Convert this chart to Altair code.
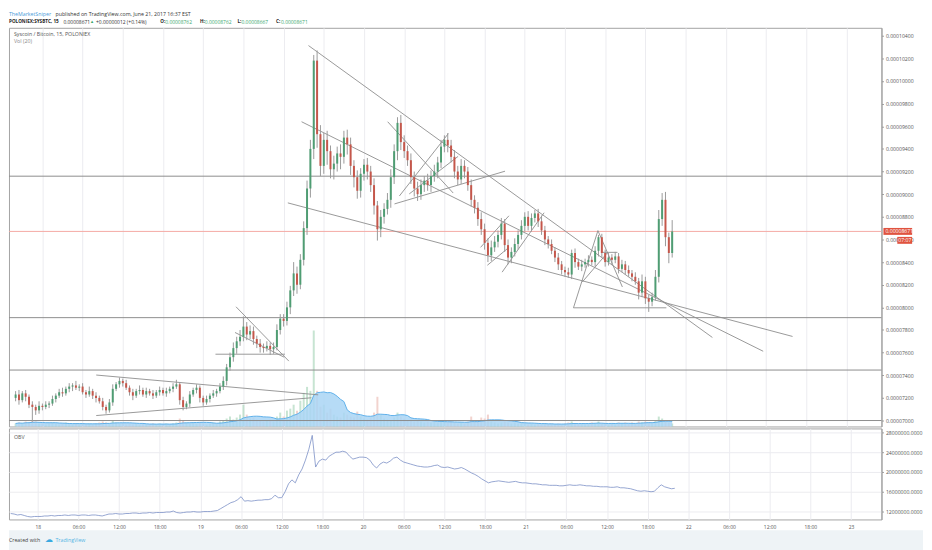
"""SYS/BTC on Poloniex: candles, volume and OBV in the TradingView look."""

import altair as alt
import pandas as pd

FONT = "Open Sans"
W, H_MAIN, H_OBV = 882, 403, 92
UP, DOWN, WICK = "#4f9d73", "#c5574b", "#9a9a9a"
GRID, LINE = "#ececf0", "#8d8d8d"

# 30 minute candles from 17 Jun 20:00, prices in satoshi (1e-8 BTC)
first_open = 7200
closes = [
    7230, 7180, 7240, 7210, 7140, 7120, 7090, 7130,
    7120, 7140, 7150, 7190, 7220, 7250, 7240, 7280, 7300, 7310, 7290, 7300,
    7250, 7230, 7260, 7220, 7200, 7170, 7120, 7090, 7160, 7280, 7320, 7350,
    7330, 7290, 7250, 7220, 7260, 7270, 7230, 7260, 7240, 7220, 7250, 7270,
    7240, 7260, 7280, 7300, 7320, 7180, 7120, 7150, 7230, 7270, 7290, 7200,
    7160, 7190, 7220, 7240, 7260, 7300, 7350, 7470, 7560, 7640, 7700, 7740,
    7830, 7760, 7790, 7720, 7680, 7650, 7640, 7660, 7630, 7650, 7800, 7900,
    7880, 8000, 8150, 8300, 8200, 8420, 8700, 9050, 9400, 10180, 9530, 9250,
    9480, 9380, 9220, 9270, 9360, 9330, 9500, 9440, 9250, 9150, 9030, 9180,
    9260, 9200, 9080, 8900, 8690, 8800, 8870, 8950, 9150, 9380, 9630, 9460,
    9380, 9300, 9150, 9050, 9000, 9080, 9120, 9080, 9160, 9200, 9280, 9420,
    9480, 9430, 9330, 9200, 9130, 9250, 9200, 9080, 8950, 8880, 8780, 8690,
    8570, 8460, 8530, 8580, 8640, 8740, 8550, 8440, 8490, 8560, 8640, 8720,
    8800, 8720, 8790, 8830, 8760, 8680, 8600, 8560, 8500, 8440, 8380, 8330,
    8310, 8290, 8480, 8400, 8360, 8380, 8400, 8420, 8400, 8500, 8620, 8480,
    8400, 8440, 8420, 8450, 8340, 8380, 8330, 8300, 8270, 8230, 8130, 8230,
    8080, 8050, 8090, 8270, 8780, 8950, 8620, 8480, 8671,
]
wick_up = [
    30, 40, 20, 30, 20, 30, 20, 40,
    20, 30, 20, 30, 20, 30, 40, 20, 30, 20, 40, 20,
    30, 20, 40, 20, 30, 20, 30, 20, 30, 40, 20, 30,
    20, 30, 20, 30, 20, 40, 20, 30, 20, 30, 20, 30,
    20, 30, 20, 30, 40, 20, 30, 20, 30, 20, 30, 20,
    20, 30, 20, 30, 20, 30, 40, 30, 40, 50, 40, 60,
    90, 40, 50, 40, 30, 40, 30, 40, 30, 40, 50, 40,
    40, 50, 40, 100, 60, 50, 60, 70, 80, 50, 90, 80,
    60, 80, 50, 70, 60, 80, 60, 70, 60, 50, 60, 50,
    50, 60, 50, 60, 40, 60, 50, 60, 70, 60, 50, 70,
    60, 50, 60, 50, 60, 50, 40, 60, 50, 60, 50, 60,
    40, 60, 50, 60, 50, 60, 50, 40, 50, 40, 50, 60,
    50, 40, 60, 50, 40, 50, 40, 50, 40, 50, 40, 50,
    40, 50, 40, 30, 40, 50, 40, 30, 40, 30, 40, 30,
    30, 40, 30, 40, 30, 40, 30, 40, 30, 40, 20, 30,
    30, 40, 30, 40, 30, 40, 30, 40, 30, 40, 30, 60,
    40, 30, 40, 60, 80, 60, 70, 40, 100,
]
wick_dn = [
    30, 40, 20, 40, 30, 130, 40, 30,
    30, 20, 30, 20, 30, 20, 30, 20, 30, 40, 20, 30,
    20, 30, 20, 30, 40, 20, 30, 30, 20, 30, 20, 30,
    30, 20, 30, 40, 20, 30, 20, 30, 20, 30, 20, 30,
    20, 30, 20, 30, 20, 40, 30, 20, 30, 20, 30, 40,
    30, 20, 30, 20, 30, 20, 30, 40, 30, 40, 50, 40,
    40, 50, 40, 50, 40, 50, 40, 30, 50, 40, 30, 40,
    50, 40, 60, 50, 80, 40, 50, 60, 80, 90, 120, 90,
    70, 120, 80, 90, 70, 110, 60, 90, 80, 90, 70, 60,
    60, 70, 60, 80, 100, 70, 60, 50, 70, 60, 80, 70,
    60, 50, 60, 70, 60, 50, 60, 50, 60, 50, 60, 50,
    50, 60, 50, 60, 50, 40, 60, 50, 60, 50, 60, 50,
    60, 60, 50, 40, 50, 40, 60, 60, 50, 40, 50, 40,
    50, 40, 50, 40, 50, 40, 50, 40, 30, 40, 50, 40,
    40, 30, 40, 50, 30, 40, 30, 40, 30, 40, 50, 40,
    40, 30, 40, 30, 40, 30, 40, 30, 40, 30, 60, 40,
    50, 90, 40, 30, 50, 60, 80, 90, 40,
]
volumes = [
    3, 4, 3, 5, 4, 6, 5, 3,
    3, 2, 3, 4, 3, 2, 3, 4, 3, 2, 3, 2,
    3, 2, 3, 2, 3, 4, 5, 4, 3, 6, 4, 3,
    3, 2, 3, 2, 3, 2, 3, 2, 2, 3, 2, 3,
    2, 3, 2, 3, 4, 8, 6, 4, 3, 4, 3, 4,
    3, 2, 3, 4, 3, 5, 6, 8, 10, 7, 9, 12,
    22, 12, 8, 9, 7, 6, 5, 6, 7, 5, 10, 14,
    10, 16, 18, 22, 16, 26, 34, 40, 36, 97, 36, 20,
    22, 14, 18, 12, 10, 9, 14, 12, 10, 9, 15, 10,
    8, 7, 9, 14, 30, 12, 8, 7, 6, 9, 14, 10,
    8, 6, 7, 5, 6, 5, 4, 5, 4, 5, 4, 6,
    5, 4, 5, 4, 3, 4, 3, 5, 10, 6, 5, 9,
    8, 12, 5, 4, 3, 4, 5, 4, 3, 4, 3, 4,
    3, 2, 3, 2, 3, 2, 3, 2, 3, 2, 3, 2,
    3, 4, 5, 3, 2, 3, 2, 3, 4, 3, 5, 3,
    3, 2, 3, 2, 4, 3, 4, 3, 4, 3, 5, 4,
    5, 4, 3, 6, 10, 8, 5, 4, 3,
]
obv_m = [
    11.6, 11.5, 11.3, 11.4, 11.2, 11.0, 10.9, 11.0,
    11.0, 11.0, 11.1, 11.1, 11.2, 11.1, 11.2, 11.2, 11.3, 11.2, 11.3, 11.3,
    11.2, 11.3, 11.3, 11.2, 11.3, 11.3, 11.2, 11.1, 11.3, 11.5, 11.5, 11.6,
    11.5, 11.5, 11.6, 11.6, 11.7, 11.7, 11.6, 11.7, 11.7, 11.8, 11.7, 11.8,
    11.8, 11.8, 11.9, 11.9, 12.1, 11.8, 11.7, 11.8, 11.9, 11.9, 12.0, 11.9,
    11.9, 12.0, 12.0, 12.0, 12.1, 12.2, 12.6, 13.0, 13.4, 13.8, 14.0, 14.4,
    15.0, 14.1, 14.2, 14.1, 14.2, 14.3, 14.3, 14.4, 14.4, 14.6, 15.3, 14.8,
    14.8, 16.0, 17.6, 18.4, 17.8, 19.4, 20.6, 22.4, 24.6, 27.4, 21.0, 22.2,
    22.6, 22.4, 23.2, 23.6, 24.0, 24.0, 24.2, 24.0, 23.2, 22.6, 22.8, 23.0,
    23.0, 22.9, 22.4, 21.4, 20.8, 21.6, 22.0, 21.8, 22.2, 22.8, 23.0, 22.4,
    22.0, 21.8, 21.6, 21.4, 21.2, 21.1, 21.0, 21.0, 21.1, 21.3, 21.4, 21.0,
    20.9, 21.0, 20.8, 20.6, 20.7, 20.9, 20.6, 20.2, 19.8, 19.5, 19.1, 18.6,
    18.2, 17.8, 18.0, 18.1, 18.2, 18.1, 18.0, 17.9, 18.0, 18.1, 17.9, 17.8,
    17.8, 17.7, 17.6, 17.6, 17.5, 17.4, 17.4, 17.3, 17.3, 17.3, 17.2, 17.2,
    17.3, 17.4, 17.3, 17.3, 17.4, 17.3, 17.2, 17.2, 17.1, 17.1, 17.0, 17.0,
    17.0, 16.9, 16.9, 17.0, 16.8, 16.8, 16.7, 16.6, 16.4, 16.2, 16.1, 16.2,
    16.1, 16.0, 16.1, 16.8, 17.4, 17.0, 16.8, 16.6, 16.7,
]

# drawn trend lines: start time, start price, end time, end price
trend_lines = [
    ("2017-06-19 15:43", 10313, "2017-06-22 04:00", 7734),
    ("2017-06-19 14:41", 9640, "2017-06-22 11:35", 7612),
    ("2017-06-19 12:38", 8923, "2017-06-22 15:58", 7743),
    ("2017-06-20 04:33", 8914, "2017-06-20 21:03", 9203),
    ("2017-06-20 05:17", 8984, "2017-06-20 12:35", 9535),
    ("2017-06-20 03:32", 9640, "2017-06-20 13:19", 9010),
    ("2017-06-20 06:45", 9002, "2017-06-20 14:03", 9334),
    ("2017-06-19 04:54", 8005, "2017-06-19 12:47", 7525),
    ("2017-06-19 04:45", 7778, "2017-06-19 12:04", 7560),
    ("2017-06-19 01:50", 7586, "2017-06-19 12:12", 7586),
    ("2017-06-18 08:02", 7402, "2017-06-19 17:10", 7227),
    ("2017-06-18 08:02", 7044, "2017-06-19 16:09", 7201),
    ("2017-06-20 17:24", 8530, "2017-06-20 21:38", 8809),
    ("2017-06-20 18:25", 8372, "2017-06-20 21:38", 8530),
    ("2017-06-20 20:37", 8311, "2017-06-21 02:53", 8836),
    ("2017-06-21 07:16", 7996, "2017-06-21 21:08", 7996),
    ("2017-06-21 07:16", 7996, "2017-06-21 10:55", 8678),
    ("2017-06-21 10:55", 8678, "2017-06-21 14:34", 8180),
    ("2017-06-21 08:35", 8224, "2017-06-21 12:23", 8486),
    ("2017-06-21 11:30", 8486, "2017-06-21 13:50", 8486),
]
levels = [9159, 7909, 7446, 7000]
last_price = 8671
countdown_at = 8592
price_ticks = [7000, 7200, 7400, 7600, 7800, 8000, 8200, 8400, 8600,
               8800, 9000, 9200, 9400, 9600, 9800, 10000, 10200, 10400]
obv_ticks = [12, 16, 20, 24, 28]
# axis ticks: (day, hour) every six hours
time_ticks = [(18, 0), (18, 6), (18, 12), (18, 18), (19, 0), (19, 6), (19, 12),
              (19, 18), (20, 0), (20, 6), (20, 12), (20, 18), (21, 0), (21, 6),
              (21, 12), (21, 18), (22, 0), (22, 6), (22, 12), (22, 18), (23, 0)]

# ---- tables ----
opens = [first_open] + closes[:-1]
candles = pd.DataFrame({
    "t": pd.date_range("2017-06-17 20:00", periods=len(closes), freq="30min"),
    "open": [o / 1e8 for o in opens],
    "close": [c / 1e8 for c in closes],
    "high": [(max(o, c) + u) / 1e8 for o, c, u in zip(opens, closes, wick_up)],
    "low": [(min(o, c) - d) / 1e8 for o, c, d in zip(opens, closes, wick_dn)],
    "vol": volumes,
    "obv": [v * 1e6 for v in obv_m],
})
trends = pd.DataFrame(trend_lines, columns=["t1", "p1", "t2", "p2"])
trends["t1"] = pd.to_datetime(trends["t1"])
trends["t2"] = pd.to_datetime(trends["t2"])
trends["p1"] = trends["p1"] / 1e8
trends["p2"] = trends["p2"] / 1e8
level_df = pd.DataFrame({"p": [v / 1e8 for v in levels]})
now_df = pd.DataFrame({"p": [last_price / 1e8]})
clock_df = pd.DataFrame({"p": [countdown_at / 1e8]})
one = pd.DataFrame({"k": [0]})

# ---- scales and axes ----
tick_values = [alt.DateTime(year=2017, month=6, date=d, hours=h) for d, h in time_ticks]
x_scale = alt.Scale(domain=[
    alt.DateTime(year=2017, month=6, date=17, hours=19, minutes=45),
    alt.DateTime(year=2017, month=6, date=23, hours=4, minutes=30),
])
x_grid = alt.Axis(title=None, labels=False, ticks=False, domain=False,
                  grid=True, gridColor=GRID, values=tick_values)
x_bottom = alt.Axis(
    title=None, ticks=False, domain=False, grid=True, gridColor=GRID,
    values=tick_values, labelFont=FONT, labelFontSize=5,
    labelColor="#555", labelPadding=5,
    labelExpr="hours(datum.value) == 0 ? timeFormat(datum.value, '%d') "
              ": timeFormat(datum.value, '%H:%M')",
)
p_scale = alt.Scale(domain=[6947.6e-8, 10469.9e-8], nice=False, zero=False)
p_axis = alt.Axis(
    orient="right", title=None, values=[v / 1e8 for v in price_ticks],
    format=".8f", labelFont=FONT, labelFontSize=5.2, labelColor="#555",
    tickSize=2, tickColor="#999", domainColor="#9e9e9e", gridColor=GRID,
    labelPadding=2,
)
o_scale = alt.Scale(domain=[10.4e6, 28.8e6], nice=False, zero=False)
o_axis = alt.Axis(
    orient="right", title=None, values=[v * 1e6 for v in obv_ticks],
    format=".4f", labelFont=FONT, labelFontSize=5.2, labelColor="#555",
    tickSize=2, tickColor="#999", domainColor="#9e9e9e", gridColor=GRID,
    labelPadding=2,
)
v_scale = alt.Scale(domain=[0, 403])


def xt(field):
    return alt.X(field, type="temporal", scale=x_scale, axis=x_grid)


def py(field):
    return alt.Y(field, type="quantitative", scale=p_scale, axis=p_axis)


def note(text, x, y, color="#444", size=5.3, weight="normal"):
    return alt.Chart(one).mark_text(
        text=text, color=color, fontSize=size, fontWeight=weight, font=FONT,
        align="left", baseline="middle",
    ).encode(x=alt.value(x), y=alt.value(y))


rising = "datum.close >= datum.open"

# ---- main panel ----
vol_bars = alt.Chart(candles).mark_bar(size=2, opacity=0.5).encode(
    x=xt("t"), y=alt.Y("vol:Q", scale=v_scale, axis=None, stack=None),
    color=alt.condition(rising, alt.value("#8fcaa6"), alt.value("#e5a79d")),
)
vol_ma = alt.Chart(candles).transform_window(
    ma="mean(vol)", frame=[-9, 0]
).mark_area(color="#a9d5f5", opacity=0.85).encode(
    x=xt("t"), y=alt.Y("ma:Q", scale=v_scale, axis=None, stack=None),
)
vol_ma_edge = alt.Chart(candles).transform_window(
    ma="mean(vol)", frame=[-9, 0]
).mark_line(color="#5fb0ea", strokeWidth=1).encode(
    x=xt("t"), y=alt.Y("ma:Q", scale=v_scale, axis=None),
)

level_rules = alt.Chart(level_df).mark_rule(color=LINE, strokeWidth=1).encode(y=py("p"))
now_rule = alt.Chart(now_df).mark_rule(color="#f4aaa4", strokeWidth=1).encode(y=py("p"))
trend_rules = alt.Chart(trends).mark_rule(color=LINE, strokeWidth=0.9).encode(
    x=xt("t1"), x2="t2", y=py("p1"), y2="p2",
)
wicks = alt.Chart(candles).mark_rule(color=WICK, strokeWidth=1).encode(
    x=xt("t"), y=py("low"), y2="high",
)
bodies = alt.Chart(candles).mark_bar(size=2).encode(
    x=xt("t"), y=py("open"), y2="close",
    color=alt.condition(rising, alt.value(UP), alt.value(DOWN)),
)
tag_bg = alt.Chart(now_df).mark_rule(color="#e0533f", strokeWidth=7).encode(
    x=alt.value(W + 2), x2=alt.value(W + 31), y=py("p"),
)
tag_txt = alt.Chart(now_df).mark_text(
    text="0.00008671", color="white", fontSize=5.2, font=FONT, align="left",
).encode(x=alt.value(W + 4), y=py("p"))
clock_bg = alt.Chart(clock_df).mark_rule(color="#e0533f", strokeWidth=7).encode(
    x=alt.value(W + 16), x2=alt.value(W + 31), y=py("p"),
)
clock_txt = alt.Chart(clock_df).mark_text(
    text="07:07", color="white", fontSize=5.2, font=FONT, align="left",
).encode(x=alt.value(W + 17), y=py("p"))

green = "#3aa76d"
texts = alt.layer(
    note("TheMarketSniper", 0, -14, color="#4a9ad8"),
    note("published on TradingView.com, June 21, 2017 16:37 EST", 47, -14, color="#333"),
    note("POLONIEX:SYSBTC, 15", 0, -6, color="#222", size=4.7, weight="bold"),
    note("0.00008671", 55, -6, color="#333", size=5),
    note("▲", 82, -6, color=green, size=4.2),
    note("+0.00000012 (+0.14%)", 88, -6, color="#333", size=5),
    note("O:", 153, -6, color="#222", size=4.7, weight="bold"),
    note("0.00008762", 158, -6, color=green, size=5),
    note("H:", 193, -6, color="#222", size=4.7, weight="bold"),
    note("0.00008762", 198, -6, color=green, size=5),
    note("L:", 231, -6, color="#222", size=4.7, weight="bold"),
    note("0.00008667", 235, -6, color=green, size=5),
    note("C:", 270, -6, color="#222", size=4.7, weight="bold"),
    note("0.00008671", 275, -6, color=green, size=5),
    note("Syscoin / Bitcoin, 15, POLONIEX", 5, 6, color="#555"),
    note("Vol (20)", 5, 13, color="#888"),
)

price_group = alt.layer(level_rules, now_rule, trend_rules, wicks, bodies,
                        tag_bg, tag_txt, clock_bg, clock_txt)
vol_group = alt.layer(vol_bars, vol_ma, vol_ma_edge)
main = alt.layer(vol_group, price_group, texts).resolve_scale(
    y="independent"
).properties(width=W, height=H_MAIN)

# ---- OBV panel ----
obv_line = alt.Chart(candles).mark_line(color="#7b8fc6", strokeWidth=0.8).encode(
    x=alt.X("t:T", scale=x_scale, axis=x_bottom),
    y=alt.Y("obv:Q", scale=o_scale, axis=o_axis),
)
footer = alt.Chart(one).mark_rect(color="#eef3f6").encode(
    x=alt.value(0), x2=alt.value(W + 42),
    y=alt.value(H_OBV + 11), y2=alt.value(H_OBV + 40),
)
obv_panel = alt.layer(
    obv_line,
    footer,
    note("OBV", 5, 9, color="#555"),
    note("Created with", 0, H_OBV + 21, color="#444"),
    note("☁", 36, H_OBV + 21, color="#3aa9e0", size=8),
    note("TradingView", 47, H_OBV + 21, color="#57b5e5"),
).properties(width=W, height=H_OBV)

chart = alt.vconcat(
    main, obv_panel, spacing=0, background="white", padding=0,
).configure_view(stroke="#a3a3a3", strokeWidth=1)

chart.save("out.html", embed_options={"renderer": "svg", "actions": False})
